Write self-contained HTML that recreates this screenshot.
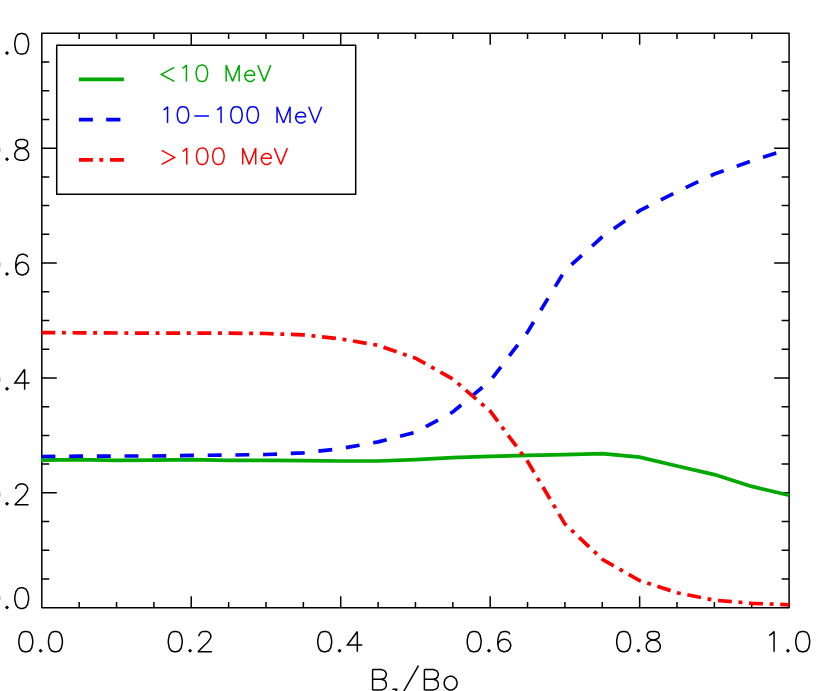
<!DOCTYPE html>
<html><head><meta charset="utf-8"><title>plot</title>
<style>
html,body{margin:0;padding:0;background:#fff;font-family:"Liberation Sans",sans-serif;}
svg{display:block;}
</style></head><body>
<svg width="830" height="691" viewBox="0 0 830 691">
<rect x="0" y="0" width="830" height="691" fill="#ffffff"/>
<path d="M41.80 33.30 H789.10 V607.70 H41.80 Z M79.16 607.70 v-5.74 M79.16 33.30 v5.74 M41.80 578.98 h7.47 M789.10 578.98 h-7.47 M116.53 607.70 v-5.74 M116.53 33.30 v5.74 M41.80 550.26 h7.47 M789.10 550.26 h-7.47 M153.90 607.70 v-5.74 M153.90 33.30 v5.74 M41.80 521.54 h7.47 M789.10 521.54 h-7.47 M191.26 607.70 v-11.49 M191.26 33.30 v11.49 M41.80 492.82 h14.95 M789.10 492.82 h-14.95 M228.62 607.70 v-5.74 M228.62 33.30 v5.74 M41.80 464.10 h7.47 M789.10 464.10 h-7.47 M265.99 607.70 v-5.74 M265.99 33.30 v5.74 M41.80 435.38 h7.47 M789.10 435.38 h-7.47 M303.36 607.70 v-5.74 M303.36 33.30 v5.74 M41.80 406.66 h7.47 M789.10 406.66 h-7.47 M340.72 607.70 v-11.49 M340.72 33.30 v11.49 M41.80 377.94 h14.95 M789.10 377.94 h-14.95 M378.09 607.70 v-5.74 M378.09 33.30 v5.74 M41.80 349.22 h7.47 M789.10 349.22 h-7.47 M415.45 607.70 v-5.74 M415.45 33.30 v5.74 M41.80 320.50 h7.47 M789.10 320.50 h-7.47 M452.82 607.70 v-5.74 M452.82 33.30 v5.74 M41.80 291.78 h7.47 M789.10 291.78 h-7.47 M490.18 607.70 v-11.49 M490.18 33.30 v11.49 M41.80 263.06 h14.95 M789.10 263.06 h-14.95 M527.55 607.70 v-5.74 M527.55 33.30 v5.74 M41.80 234.34 h7.47 M789.10 234.34 h-7.47 M564.91 607.70 v-5.74 M564.91 33.30 v5.74 M41.80 205.62 h7.47 M789.10 205.62 h-7.47 M602.27 607.70 v-5.74 M602.27 33.30 v5.74 M41.80 176.90 h7.47 M789.10 176.90 h-7.47 M639.64 607.70 v-11.49 M639.64 33.30 v11.49 M41.80 148.18 h14.95 M789.10 148.18 h-14.95 M677.00 607.70 v-5.74 M677.00 33.30 v5.74 M41.80 119.46 h7.47 M789.10 119.46 h-7.47 M714.37 607.70 v-5.74 M714.37 33.30 v5.74 M41.80 90.74 h7.47 M789.10 90.74 h-7.47 M751.74 607.70 v-5.74 M751.74 33.30 v5.74 M41.80 62.02 h7.47 M789.10 62.02 h-7.47" fill="none" stroke="#000" stroke-width="1.50" stroke-linecap="butt" stroke-linejoin="round"/>
<path d="M41.0 460.1 L79.2 459.6 L116.5 460.4 L153.9 460.1 L191.3 459.6 L228.6 460.3 L266.0 460.3 L303.4 460.7 L340.7 461.0 L378.1 461.0 L415.5 459.6 L452.8 457.7 L490.2 456.4 L527.5 455.4 L564.9 454.6 L602.3 453.6 L639.6 457.2 L677.0 466.0 L714.4 474.6 L751.7 486.4 L789.1 495.2" fill="none" stroke="#00a800" stroke-width="3.70" stroke-linejoin="miter" stroke-miterlimit="2.5"/>
<path d="M41.0 456.5 L79.2 456.2 L116.5 456.0 L153.9 456.0 L191.3 455.4 L228.6 455.1 L266.0 454.5 L303.4 452.9 L340.7 448.6 L378.1 441.9 L415.5 432.3 L452.8 412.0 L490.2 380.8 L527.5 332.1 L564.9 270.6 L602.3 236.8 L639.6 210.7 L677.0 191.7 L714.4 174.0 L751.7 160.9 L789.1 149.0" fill="none" stroke="#0000ff" stroke-width="3.70" stroke-linejoin="miter" stroke-miterlimit="2.5" stroke-dasharray="13.9 13.81" stroke-dashoffset="-0.45"/>
<path d="M41.0 332.6 L79.2 332.8 L116.5 333.0 L153.9 333.1 L191.3 333.2 L228.6 333.2 L266.0 333.5 L303.4 334.9 L340.7 338.9 L378.1 345.3 L415.5 358.2 L452.8 379.0 L490.2 411.1 L527.5 461.3 L564.9 523.9 L602.3 559.3 L639.6 580.6 L677.0 592.7 L714.4 600.2 L751.7 603.3 L789.1 604.8" fill="none" stroke="#ff0000" stroke-width="3.70" stroke-linejoin="miter" stroke-miterlimit="2.5" stroke-dasharray="13.9 6.7 3.9 6.7" stroke-dashoffset="-0.4"/>
<rect x="56.7" y="45.3" width="299.00" height="148.90" fill="#fff" stroke="#000" stroke-width="1.50" stroke-linejoin="round"/>
<path d="M78.9 79.3 H123.9" stroke="#00a800" stroke-width="3.70" fill="none"/>
<path d="M78.9 119.6 H92.9 M106.2 119.6 H120.4" stroke="#0000ff" stroke-width="3.70" fill="none"/>
<path d="M78.9 159.9 H92.9 M99.4 159.9 H103.2 M110 159.9 H123.9" stroke="#ff0000" stroke-width="3.70" fill="none"/>
<path d="M174.27 67.43 L161.29 74.42 L174.27 81.40 M182.38 68.21 L184.00 67.43 L186.44 65.10 L186.44 81.40 M201.03 65.10 L198.60 65.88 L196.98 68.21 L196.17 72.09 L196.17 74.42 L196.98 78.30 L198.60 80.62 L201.03 81.40 L202.66 81.40 L205.09 80.62 L206.71 78.30 L207.52 74.42 L207.52 72.09 L206.71 68.21 L205.09 65.88 L202.66 65.10 L201.03 65.10 M226.17 65.10 L226.17 81.40 M226.17 65.10 L232.66 81.40 M239.15 65.10 L232.66 81.40 M239.15 65.10 L239.15 81.40 M244.83 75.19 L254.56 75.19 L254.56 73.64 L253.75 72.09 L252.94 71.31 L251.31 70.54 L248.88 70.54 L247.26 71.31 L245.64 72.86 L244.83 75.19 L244.83 76.74 L245.64 79.07 L247.26 80.62 L248.88 81.40 L251.31 81.40 L252.94 80.62 L254.56 79.07 M257.80 65.10 L264.29 81.40 M270.78 65.10 L264.29 81.40" fill="none" stroke="#00a800" stroke-width="1.5" stroke-linecap="butt" stroke-linejoin="miter" stroke-miterlimit="2.5"/>
<path d="M163.52 109.81 L165.14 109.03 L167.57 106.70 L167.57 123.00 M182.17 106.70 L179.74 107.48 L178.11 109.81 L177.30 113.69 L177.30 116.02 L178.11 119.90 L179.74 122.22 L182.17 123.00 L183.79 123.00 L186.22 122.22 L187.85 119.90 L188.66 116.02 L188.66 113.69 L187.85 109.81 L186.22 107.48 L183.79 106.70 L182.17 106.70 M194.33 116.02 L208.93 116.02 M217.04 109.81 L218.66 109.03 L221.10 106.70 L221.10 123.00 M235.70 106.70 L233.26 107.48 L231.64 109.81 L230.83 113.69 L230.83 116.02 L231.64 119.90 L233.26 122.22 L235.70 123.00 L237.32 123.00 L239.75 122.22 L241.37 119.90 L242.18 116.02 L242.18 113.69 L241.37 109.81 L239.75 107.48 L237.32 106.70 L235.70 106.70 M251.92 106.70 L249.48 107.48 L247.86 109.81 L247.05 113.69 L247.05 116.02 L247.86 119.90 L249.48 122.22 L251.92 123.00 L253.54 123.00 L255.97 122.22 L257.59 119.90 L258.40 116.02 L258.40 113.69 L257.59 109.81 L255.97 107.48 L253.54 106.70 L251.92 106.70 M277.06 106.70 L277.06 123.00 M277.06 106.70 L283.54 123.00 M290.03 106.70 L283.54 123.00 M290.03 106.70 L290.03 123.00 M295.71 116.79 L305.44 116.79 L305.44 115.24 L304.63 113.69 L303.82 112.91 L302.20 112.14 L299.76 112.14 L298.14 112.91 L296.52 114.46 L295.71 116.79 L295.71 118.34 L296.52 120.67 L298.14 122.22 L299.76 123.00 L302.20 123.00 L303.82 122.22 L305.44 120.67 M308.69 106.70 L315.17 123.00 M321.66 106.70 L315.17 123.00" fill="none" stroke="#0000ff" stroke-width="1.5" stroke-linecap="butt" stroke-linejoin="miter" stroke-miterlimit="2.5"/>
<path d="M161.64 150.43 L174.62 157.42 L161.64 164.40 M182.73 151.21 L184.35 150.43 L186.78 148.10 L186.78 164.40 M201.38 148.10 L198.95 148.88 L197.33 151.21 L196.52 155.09 L196.52 157.42 L197.33 161.30 L198.95 163.62 L201.38 164.40 L203.00 164.40 L205.44 163.62 L207.06 161.30 L207.87 157.42 L207.87 155.09 L207.06 151.21 L205.44 148.88 L203.00 148.10 L201.38 148.10 M217.60 148.10 L215.17 148.88 L213.55 151.21 L212.74 155.09 L212.74 157.42 L213.55 161.30 L215.17 163.62 L217.60 164.40 L219.22 164.40 L221.66 163.62 L223.28 161.30 L224.09 157.42 L224.09 155.09 L223.28 151.21 L221.66 148.88 L219.22 148.10 L217.60 148.10 M242.74 148.10 L242.74 164.40 M242.74 148.10 L249.23 164.40 M255.72 148.10 L249.23 164.40 M255.72 148.10 L255.72 164.40 M261.40 158.19 L271.13 158.19 L271.13 156.64 L270.32 155.09 L269.51 154.31 L267.88 153.54 L265.45 153.54 L263.83 154.31 L262.21 155.86 L261.40 158.19 L261.40 159.74 L262.21 162.07 L263.83 163.62 L265.45 164.40 L267.88 164.40 L269.51 163.62 L271.13 162.07 M274.37 148.10 L280.86 164.40 M287.35 148.10 L280.86 164.40" fill="none" stroke="#ff0000" stroke-width="1.5" stroke-linecap="butt" stroke-linejoin="miter" stroke-miterlimit="2.5"/>
<path d="M24.80 631.44 L21.83 632.41 L19.85 635.31 L18.87 640.15 L18.87 643.05 L19.85 647.88 L21.83 650.78 L24.80 651.75 L26.77 651.75 L29.74 650.78 L31.72 647.88 L32.71 643.05 L32.71 640.15 L31.72 635.31 L29.74 632.41 L26.77 631.44 L24.80 631.44 M40.62 649.82 L39.63 650.78 L40.62 651.75 L41.60 650.78 L40.62 649.82 L39.63 650.78 M54.46 631.44 L51.49 632.41 L49.51 635.31 L48.52 640.15 L48.52 643.05 L49.51 647.88 L51.49 650.78 L54.46 651.75 L56.43 651.75 L59.40 650.78 L61.38 647.88 L62.36 643.05 L62.36 640.15 L61.38 635.31 L59.40 632.41 L56.43 631.44 L54.46 631.44 M174.26 631.44 L171.29 632.41 L169.31 635.31 L168.33 640.15 L168.33 643.05 L169.31 647.88 L171.29 650.78 L174.26 651.75 L176.23 651.75 L179.20 650.78 L181.18 647.88 L182.17 643.05 L182.17 640.15 L181.18 635.31 L179.20 632.41 L176.23 631.44 L174.26 631.44 M190.08 649.82 L189.09 650.78 L190.08 651.75 L191.06 650.78 L190.08 649.82 L189.09 650.78 M198.97 636.28 L198.97 635.31 L199.96 633.38 L200.95 632.41 L202.93 631.44 L206.88 631.44 L208.86 632.41 L209.85 633.38 L210.84 635.31 L210.84 637.25 L209.85 639.18 L207.87 642.08 L197.98 651.75 L211.82 651.75 M323.72 631.44 L320.75 632.41 L318.77 635.31 L317.79 640.15 L317.79 643.05 L318.77 647.88 L320.75 650.78 L323.72 651.75 L325.69 651.75 L328.66 650.78 L330.64 647.88 L331.63 643.05 L331.63 640.15 L330.64 635.31 L328.66 632.41 L325.69 631.44 L323.72 631.44 M339.53 649.82 L338.55 650.78 L339.53 651.75 L340.52 650.78 L339.53 649.82 L338.55 650.78 M357.33 631.44 L347.44 644.98 L362.27 644.98 M357.33 631.44 L357.33 651.75 M473.18 631.44 L470.21 632.41 L468.23 635.31 L467.25 640.15 L467.25 643.05 L468.23 647.88 L470.21 650.78 L473.18 651.75 L475.15 651.75 L478.12 650.78 L480.10 647.88 L481.09 643.05 L481.09 640.15 L480.10 635.31 L478.12 632.41 L475.15 631.44 L473.18 631.44 M488.99 649.82 L488.01 650.78 L488.99 651.75 L489.98 650.78 L488.99 649.82 L488.01 650.78 M509.76 634.34 L508.77 632.41 L505.80 631.44 L503.82 631.44 L500.86 632.41 L498.88 635.31 L497.89 640.15 L497.89 644.98 L498.88 648.85 L500.86 650.78 L503.82 651.75 L504.81 651.75 L507.78 650.78 L509.76 648.85 L510.74 645.95 L510.74 644.98 L509.76 642.08 L507.78 640.15 L504.81 639.18 L503.82 639.18 L500.86 640.15 L498.88 642.08 L497.89 644.98 M622.64 631.44 L619.67 632.41 L617.69 635.31 L616.71 640.15 L616.71 643.05 L617.69 647.88 L619.67 650.78 L622.64 651.75 L624.61 651.75 L627.58 650.78 L629.56 647.88 L630.55 643.05 L630.55 640.15 L629.56 635.31 L627.58 632.41 L624.61 631.44 L622.64 631.44 M638.46 649.82 L637.47 650.78 L638.46 651.75 L639.44 650.78 L638.46 649.82 L637.47 650.78 M651.31 631.44 L648.34 632.41 L647.35 634.34 L647.35 636.28 L648.34 638.21 L650.32 639.18 L654.27 640.15 L657.24 641.11 L659.22 643.05 L660.20 644.98 L660.20 647.88 L659.22 649.82 L658.23 650.78 L655.26 651.75 L651.31 651.75 L648.34 650.78 L647.35 649.82 L646.36 647.88 L646.36 644.98 L647.35 643.05 L649.33 641.11 L652.30 640.15 L656.25 639.18 L658.23 638.21 L659.22 636.28 L659.22 634.34 L658.23 632.41 L655.26 631.44 L651.31 631.44 M769.13 635.31 L771.11 634.34 L774.07 631.44 L774.07 651.75 M787.92 649.82 L786.93 650.78 L787.92 651.75 L788.90 650.78 L787.92 649.82 L786.93 650.78 M801.76 631.44 L798.79 632.41 L796.81 635.31 L795.82 640.15 L795.82 643.05 L796.81 647.88 L798.79 650.78 L801.76 651.75 L803.73 651.75 L806.70 650.78 L808.68 647.88 L809.66 643.05 L809.66 640.15 L808.68 635.31 L806.70 632.41 L803.73 631.44 L801.76 631.44 M-8.38 587.81 L-11.32 588.79 L-13.28 591.74 L-14.26 596.65 L-14.26 599.60 L-13.28 604.52 L-11.32 607.47 L-8.38 608.45 L-6.42 608.45 L-3.48 607.47 L-1.52 604.52 L-0.54 599.60 L-0.54 596.65 L-1.52 591.74 L-3.48 588.79 L-6.42 587.81 L-8.38 587.81 M7.00 606.48 L6.02 607.47 L7.00 608.45 L7.98 607.47 L7.00 606.48 L6.02 607.47 M20.72 587.81 L17.78 588.79 L15.82 591.74 L14.84 596.65 L14.84 599.60 L15.82 604.52 L17.78 607.47 L20.72 608.45 L22.68 608.45 L25.62 607.47 L27.58 604.52 L28.56 599.60 L28.56 596.65 L27.58 591.74 L25.62 588.79 L22.68 587.81 L20.72 587.81 M-8.38 484.11 L-11.32 485.09 L-13.28 488.04 L-14.26 492.95 L-14.26 495.90 L-13.28 500.82 L-11.32 503.77 L-8.38 504.75 L-6.42 504.75 L-3.48 503.77 L-1.52 500.82 L-0.54 495.90 L-0.54 492.95 L-1.52 488.04 L-3.48 485.09 L-6.42 484.11 L-8.38 484.11 M7.00 502.78 L6.02 503.77 L7.00 504.75 L7.98 503.77 L7.00 502.78 L6.02 503.77 M15.82 489.02 L15.82 488.04 L16.80 486.07 L17.78 485.09 L19.74 484.11 L23.66 484.11 L25.62 485.09 L26.60 486.07 L27.58 488.04 L27.58 490.00 L26.60 491.97 L24.64 494.92 L14.84 504.75 L28.56 504.75 M-8.38 369.21 L-11.32 370.19 L-13.28 373.14 L-14.26 378.05 L-14.26 381.00 L-13.28 385.92 L-11.32 388.87 L-8.38 389.85 L-6.42 389.85 L-3.48 388.87 L-1.52 385.92 L-0.54 381.00 L-0.54 378.05 L-1.52 373.14 L-3.48 370.19 L-6.42 369.21 L-8.38 369.21 M7.00 387.88 L6.02 388.87 L7.00 389.85 L7.98 388.87 L7.00 387.88 L6.02 388.87 M24.64 369.21 L14.84 382.97 L29.54 382.97 M24.64 369.21 L24.64 389.85 M-8.38 254.31 L-11.32 255.29 L-13.28 258.24 L-14.26 263.15 L-14.26 266.10 L-13.28 271.02 L-11.32 273.97 L-8.38 274.95 L-6.42 274.95 L-3.48 273.97 L-1.52 271.02 L-0.54 266.10 L-0.54 263.15 L-1.52 258.24 L-3.48 255.29 L-6.42 254.31 L-8.38 254.31 M7.00 272.98 L6.02 273.97 L7.00 274.95 L7.98 273.97 L7.00 272.98 L6.02 273.97 M27.58 257.26 L26.60 255.29 L23.66 254.31 L21.70 254.31 L18.76 255.29 L16.80 258.24 L15.82 263.15 L15.82 268.07 L16.80 272.00 L18.76 273.97 L21.70 274.95 L22.68 274.95 L25.62 273.97 L27.58 272.00 L28.56 269.05 L28.56 268.07 L27.58 265.12 L25.62 263.15 L22.68 262.17 L21.70 262.17 L18.76 263.15 L16.80 265.12 L15.82 268.07 M-8.38 139.56 L-11.32 140.54 L-13.28 143.49 L-14.26 148.40 L-14.26 151.35 L-13.28 156.27 L-11.32 159.22 L-8.38 160.20 L-6.42 160.20 L-3.48 159.22 L-1.52 156.27 L-0.54 151.35 L-0.54 148.40 L-1.52 143.49 L-3.48 140.54 L-6.42 139.56 L-8.38 139.56 M7.00 158.23 L6.02 159.22 L7.00 160.20 L7.98 159.22 L7.00 158.23 L6.02 159.22 M19.74 139.56 L16.80 140.54 L15.82 142.51 L15.82 144.47 L16.80 146.44 L18.76 147.42 L22.68 148.40 L25.62 149.39 L27.58 151.35 L28.56 153.32 L28.56 156.27 L27.58 158.23 L26.60 159.22 L23.66 160.20 L19.74 160.20 L16.80 159.22 L15.82 158.23 L14.84 156.27 L14.84 153.32 L15.82 151.35 L17.78 149.39 L20.72 148.40 L24.64 147.42 L26.60 146.44 L27.58 144.47 L27.58 142.51 L26.60 140.54 L23.66 139.56 L19.74 139.56 M-11.32 37.39 L-9.36 36.41 L-6.42 33.46 L-6.42 54.10 M7.00 52.13 L6.02 53.12 L7.00 54.10 L7.98 53.12 L7.00 52.13 L6.02 53.12 M20.72 33.46 L17.78 34.44 L15.82 37.39 L14.84 42.30 L14.84 45.25 L15.82 50.17 L17.78 53.12 L20.72 54.10 L22.68 54.10 L25.62 53.12 L27.58 50.17 L28.56 45.25 L28.56 42.30 L27.58 37.39 L25.62 34.44 L22.68 33.46 L20.72 33.46 M372.60 669.59 L372.60 689.90 M372.60 669.59 L381.36 669.59 L384.28 670.56 L385.25 671.53 L386.23 673.46 L386.23 675.39 L385.25 677.33 L384.28 678.30 L381.36 679.26 M372.60 679.26 L381.36 679.26 L384.28 680.23 L385.25 681.20 L386.23 683.13 L386.23 686.03 L385.25 687.97 L384.28 688.93 L381.36 689.90 L372.60 689.90 M397.29 689.14 L392.50 695.10 M392.50 689.14 L397.29 689.14 M392.50 695.10 L397.29 695.10 M418.47 665.73 L400.68 696.67 M424.40 669.59 L424.40 689.90 M424.40 669.59 L433.30 669.59 L436.27 670.56 L437.26 671.53 L438.24 673.46 L438.24 675.39 L437.26 677.33 L436.27 678.30 L433.30 679.26 M424.40 679.26 L433.30 679.26 L436.27 680.23 L437.26 681.20 L438.24 683.13 L438.24 686.03 L437.26 687.97 L436.27 688.93 L433.30 689.90 L424.40 689.90 M449.12 676.36 L447.14 677.33 L445.16 679.26 L444.18 682.16 L444.18 684.10 L445.16 687.00 L447.14 688.93 L449.12 689.90 L452.08 689.90 L454.06 688.93 L456.04 687.00 L457.03 684.10 L457.03 682.16 L456.04 679.26 L454.06 677.33 L452.08 676.36 L449.12 676.36" fill="none" stroke="#000" stroke-width="1.50" stroke-linecap="butt" stroke-linejoin="miter" stroke-miterlimit="2.5"/>
</svg>
</body></html>
